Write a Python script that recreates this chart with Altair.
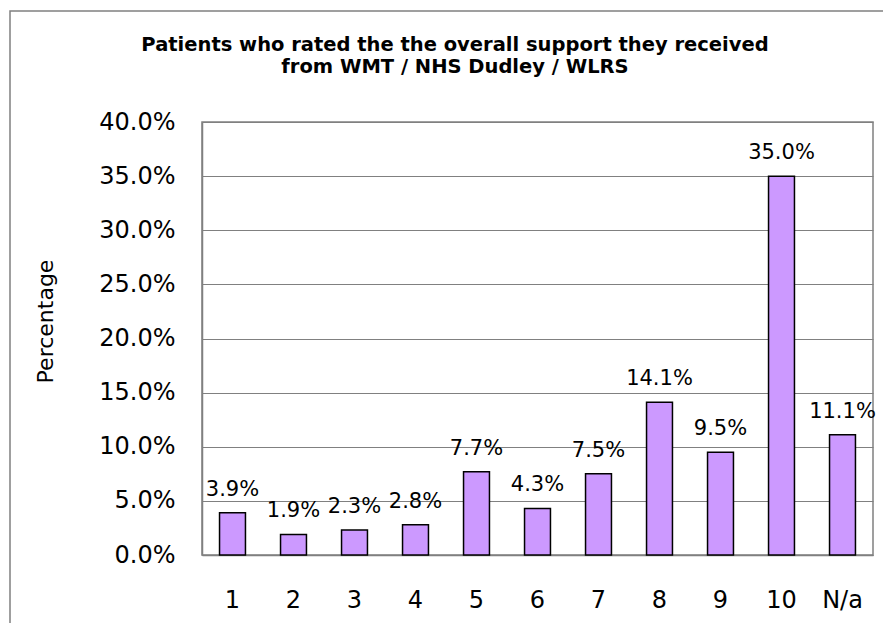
import altair as alt
import pandas as pd

categories = ["1", "2", "3", "4", "5", "6", "7", "8", "9", "10", "N/a"]
values = [3.9, 1.9, 2.3, 2.8, 7.7, 4.3, 7.5, 14.1, 9.5, 35.0, 11.1]
y_ticks = [0, 0.05, 0.10, 0.15, 0.20, 0.25, 0.30, 0.35, 0.40]
title_lines = ["Patients who rated the the overall support they received",
               "from WMT / NHS Dudley / WLRS"]

df = pd.DataFrame({
    "cat": categories,
    "share": [v / 100 for v in values],
    "label": [f"{v:.1f}%" for v in values],
})

FONT = "DejaVu Sans"
GRAY = "#808080"

x_enc = alt.X("cat:N", sort=categories,
              scale=alt.Scale(paddingInner=0.575, paddingOuter=0.2875),
              axis=alt.Axis(title=None, labelAngle=0, ticks=False, labelFont=FONT,
                            labelFontSize=24, labelColor="black", labelPadding=33,
                            domainColor=GRAY, domainWidth=1.5))
y_enc = alt.Y("share:Q", scale=alt.Scale(domain=[0, 0.4], nice=False),
              axis=alt.Axis(title="Percentage", values=y_ticks, format=".1%",
                            ticks=False, labelFont=FONT, labelFontSize=24,
                            labelColor="black", labelPadding=27,
                            domainColor=GRAY, domainWidth=1.5,
                            gridColor=GRAY, gridWidth=1,
                            titleFont=FONT, titleFontSize=22, titleFontWeight="normal",
                            titleColor="black", titleAngle=270, titleX=-157, titleY=199,
                            titleAlign="center", titleBaseline="middle"))

base = alt.Chart(df)

bars = base.mark_bar(color="#CC99FF", stroke="black", strokeWidth=1.5).encode(
    x=x_enc, y=y_enc)

labels = base.mark_text(font=FONT, fontSize=21, color="black",
                        baseline="alphabetic", dy=-17).encode(
    x=alt.X("cat:N", sort=categories), y=alt.Y("share:Q"), text="label:N")

frame = alt.Chart(pd.DataFrame({"a": [0]})).mark_rect(
    fill="white", fillOpacity=0, stroke=GRAY, strokeWidth=1.5).encode(
    x=alt.value(-192), x2=alt.value(700), y=alt.value(-111), y2=alt.value(520))

chart = alt.layer(bars, labels, frame).properties(
    width=671, height=433,
    title=alt.TitleParams(text=title_lines, font=FONT, fontSize=19.5,
                          fontWeight="bold", color="black", anchor="middle",
                          dx=-82.5, offset=-67, lineHeight=22),
    autosize=alt.AutoSizeParams(type="none"),
    padding={"left": 194, "top": 114, "right": 10, "bottom": 68},
    background="white",
).configure_view(stroke=GRAY, strokeWidth=1.5)

chart.save("out.html", embed_options={"renderer": "svg", "actions": False})
